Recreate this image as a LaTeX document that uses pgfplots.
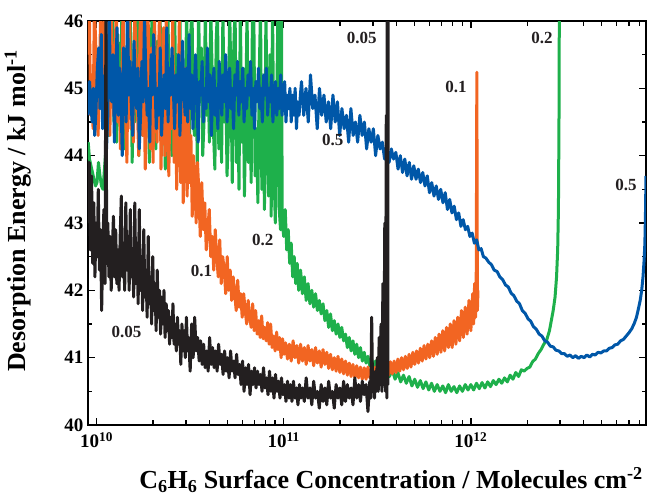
\documentclass[border=0pt]{standalone}
\usepackage{fontspec}
\setmainfont{Liberation Serif}
\usepackage{pgfplots}
\pgfplotsset{compat=1.18}
\definecolor{cblue}{RGB}{0,87,168}
\definecolor{cgreen}{RGB}{30,176,75}
\definecolor{corange}{RGB}{242,101,34}
\definecolor{cblack}{RGB}{35,31,32}
\begin{document}
\begin{tikzpicture}
\useasboundingbox (-88pt,-73pt) rectangle (561pt,425pt);
\begin{axis}[
  at={(0pt,0pt)}, anchor=south west,
  scale only axis, width=558pt, height=404pt,
  xmin=9.954, xmax=12.936, ymin=40, ymax=46,
  xtick={10,11,12},
  xticklabels={10\textsuperscript{10},10\textsuperscript{11},10\textsuperscript{12}},
  minor xtick={10.301,10.477,10.602,10.699,10.778,10.845,10.903,10.954,
    11.301,11.477,11.602,11.699,11.778,11.845,11.903,11.954,
    12.301,12.477,12.602,12.699,12.778,12.845,12.903},
  ytick={40,41,42,43,44,45,46},
  yticklabels={40,41,42,43,44,45,46},
  minor ytick={40.5,41.5,42.5,43.5,44.5,45.5},
  tick align=inside,
  major tick length=7pt, minor tick length=4.5pt,
  axis line style={line width=1.5pt},
  every tick/.style={line width=1.3pt, black},
  xticklabel style={font=\fontsize{19}{19}\selectfont\bfseries, yshift=-4pt},
  yticklabel style={font=\fontsize{19}{19}\selectfont\bfseries, xshift=-1pt},
  xlabel={C\textsubscript{6}H\textsubscript{6} Surface Concentration / Molecules cm\textsuperscript{-2}},
  ylabel={Desorption Energy / kJ mol\textsuperscript{-1}},
  xlabel style={font=\fontsize{26}{26}\selectfont\bfseries, at={(axis description cs:0.543,-0.157)}, anchor=base},
  ylabel style={font=\fontsize{26}{26}\selectfont\bfseries, at={(axis description cs:-0.1254,0.53)}, anchor=center},
  every axis plot/.style={line width=3pt, line join=round, mark=none},
  clip=true,
]
% 0.2 green
\addplot[cgreen] coordinates {
(9.955,44.2)(9.962,43.95)(9.970,43.85)(9.978,43.75)(9.986,43.65)(9.994,43.55)(10.002,43.6)(10.01,43.9)(10.018,43.7)(10.026,43.55)(10.034,43.5)(10.042,43.8)(10.05,44.1)(10.058,44.6)(10.065,44.3)(10.072,45.4)(10.078,45.0)(10.085,46.2)(10.093,44.5)(10.1,44.9)(10.107,44.2)(10.113,45.8)(10.12,45.2)(10.128,44.4)(10.135,46.2)(10.141,45.5)(10.148,44.1)(10.156,44.6)(10.163,45.3)(10.17,44.7)(10.176,46.2)(10.183,45.8)(10.19,43.9)(10.198,45.1)(10.205,44.5)(10.211,44.9)(10.218,46.2)(10.226,44.0)(10.232,45.6)(10.239,45.0)(10.247,44.3)(10.254,46.2)(10.26,46.2)(10.267,44.8)(10.275,45.2)(10.282,43.9)(10.289,44.6)(10.296,46.2)(10.303,44.4)(10.31,45.0)(10.317,44.1)(10.324,45.7)(10.332,44.6)(10.338,46.2)(10.345,45.3)(10.353,44.2)(10.36,45.4)(10.367,43.8)(10.374,44.9)(10.381,46.2)(10.389,44.5)(10.395,45.1)(10.402,44.0)(10.41,45.8)(10.417,46.2)(10.424,44.7)(10.43,45.5)(10.438,44.2)(10.445,46.2)(10.452,44.4)(10.46,45.2)(10.467,43.9)(10.474,44.6)(10.481,46.2)(10.488,45.0)(10.496,44.1)(10.503,45.8)(10.51,46.2)(10.516,44.6)(10.523,44.3)(10.531,45.4)(10.538,43.9)(10.545,46.2)(10.553,44.8)(10.56,45.6)(10.567,44.0)(10.574,44.5)(10.581,46.2)(10.588,44.6)(10.596,45.1)(10.603,44.2)(10.61,46.2)(10.617,45.3)(10.624,44.4)(10.632,43.8)(10.639,45.7)(10.646,46.2)(10.653,44.1)(10.66,45.0)(10.668,43.9)(10.675,46.2)(10.682,44.5)(10.689,45.4)(10.697,43.7)(10.704,44.3)(10.711,46.2)(10.718,45.1)(10.725,43.6)(10.733,45.6)(10.74,46.2)(10.747,43.9)(10.754,44.8)(10.761,43.5)(10.768,46.2)(10.776,44.2)(10.783,45.3)(10.79,43.4)(10.797,44.6)(10.804,46.2)(10.811,43.9)(10.819,45.0)(10.826,43.6)(10.833,46.2)(10.84,46.2)(10.847,43.7)(10.854,44.4)(10.862,43.3)(10.869,45.2)(10.876,46.2)(10.883,43.5)(10.89,44.7)(10.897,43.2)(10.905,46.2)(10.912,44.1)(10.919,43.4)(10.926,45.5)(10.933,43.1)(10.94,46.2)(10.948,43.8)(10.955,43.0)(10.962,44.6)(10.969,46.2)(10.976,43.2)(10.983,42.9)(10.988,46.2)(10.992,43.0)
(11.0,42.8)(11.008,43.2)(11.016,42.6)(11.024,42.9)(11.032,42.4)(11.04,42.7)(11.048,42.2)(11.056,42.5)(11.064,42.1)(11.072,42.4)(11.08,42.0)(11.09,42.3)(11.1,41.95)(11.11,42.2)(11.12,41.85)(11.13,42.1)(11.14,41.8)(11.15,42.0)(11.16,41.75)(11.17,41.95)(11.18,41.7)(11.19,41.85)(11.2,41.65)(11.21,41.8)(11.22,41.55)(11.23,41.7)(11.24,41.45)(11.25,41.65)(11.26,41.4)(11.27,41.55)(11.28,41.35)(11.29,41.5)(11.3,41.3)(11.31,41.45)(11.32,41.25)(11.33,41.35)(11.34,41.15)(11.35,41.3)(11.36,41.1)(11.37,41.25)(11.38,41.05)(11.39,41.2)(11.4,41.0)(11.41,41.15)(11.42,40.95)(11.43,41.08)(11.44,40.92)(11.45,41.02)(11.46,40.88)(11.47,40.98)(11.48,40.82)(11.49,40.95)(11.5,40.8)(11.51,40.9)(11.52,40.76)(11.53,40.88)(11.54,40.74)(11.55,40.85)(11.565,40.72)(11.58,40.82)(11.595,40.68)(11.61,40.78)(11.625,40.64)(11.64,40.74)(11.655,40.62)(11.67,40.72)(11.685,40.58)(11.7,40.68)(11.715,40.56)(11.73,40.66)(11.745,40.54)(11.76,40.64)(11.775,40.52)(11.79,40.62)(11.805,40.5)(11.82,40.6)(11.835,40.5)(11.85,40.58)(11.865,40.48)(11.88,40.6)(11.895,40.5)(11.91,40.57)(11.925,40.48)(11.94,40.58)(11.955,40.5)(11.97,40.6)(11.985,40.52)(12.0,40.6)(12.015,40.52)(12.03,40.62)(12.045,40.54)(12.06,40.63)(12.075,40.55)(12.09,40.64)(12.105,40.57)(12.12,40.66)(12.135,40.6)(12.15,40.68)(12.165,40.62)(12.18,40.7)(12.195,40.64)(12.21,40.74)(12.225,40.68)(12.24,40.78)(12.255,40.72)(12.27,40.82)(12.285,40.8)(12.3,40.84)(12.315,40.86)(12.33,40.94)(12.345,40.98)(12.36,41.06)(12.375,41.12)(12.39,41.2)(12.405,41.26)(12.42,41.4)(12.43,41.55)(12.44,41.7)(12.45,41.9)(12.458,42.2)(12.464,42.6)(12.468,43.2)(12.471,44.5)(12.473,46.3)
};
% 0.1 orange
\addplot[corange] coordinates {
(9.955,45.5)(9.961,46.2)(9.968,44.6)(9.974,45.2)(9.981,44.4)(9.988,46.2)(9.995,45.7)(10.001,44.9)(10.008,44.3)(10.015,45.1)(10.022,46.2)(10.029,44.7)(10.036,45.5)(10.043,46.2)(10.05,44.4)(10.057,44.9)(10.064,45.8)(10.071,44.3)(10.078,46.2)(10.085,45.0)(10.092,44.6)(10.099,45.6)(10.106,46.2)(10.113,44.5)(10.12,45.3)(10.127,44.1)(10.134,44.8)(10.141,46.2)(10.148,45.2)(10.155,44.6)(10.162,43.9)(10.169,45.7)(10.176,46.2)(10.183,44.4)(10.19,45.0)(10.197,44.2)(10.204,46.2)(10.211,45.4)(10.218,44.7)(10.225,44.0)(10.232,45.9)(10.239,46.2)(10.246,44.3)(10.253,45.1)(10.26,43.8)(10.267,44.6)(10.274,46.2)(10.281,45.3)(10.288,44.1)(10.295,45.6)(10.302,43.9)(10.309,46.2)(10.316,44.8)(10.323,44.2)(10.33,45.4)(10.337,46.2)(10.344,43.8)(10.351,44.7)(10.358,45.9)(10.365,44.0)(10.372,46.2)(10.379,44.5)(10.386,43.7)(10.393,45.2)(10.4,44.4)(10.407,46.2)(10.414,43.9)(10.421,45.0)(10.428,43.5)(10.435,44.6)(10.442,46.0)(10.449,43.6)(10.456,44.8)(10.463,43.3)(10.47,45.3)(10.477,44.0)(10.484,43.4)(10.49,44.9)(10.497,43.6)(10.504,44.3)(10.511,43.1)(10.518,44.0)(10.525,43.6)(10.532,43.0)(10.539,43.9)(10.546,43.5)(10.554,42.8)(10.562,43.6)(10.57,42.9)(10.578,43.3)(10.586,42.6)(10.594,42.9)(10.602,43.2)(10.61,42.5)(10.618,42.8)(10.626,42.3)(10.634,42.9)(10.642,42.5)(10.65,42.2)(10.658,42.75)(10.666,42.1)(10.674,42.5)(10.682,42.3)(10.69,41.95)(10.698,42.5)(10.706,42.0)(10.714,42.3)(10.722,41.85)(10.73,42.2)(10.738,41.95)(10.746,41.7)(10.754,42.15)(10.762,41.75)(10.77,41.95)(10.778,41.6)(10.786,41.95)(10.794,41.7)(10.802,41.5)(10.81,41.85)(10.818,41.6)(10.826,41.45)(10.834,41.8)(10.842,41.4)(10.85,41.7)(10.858,41.35)(10.866,41.55)(10.874,41.3)(10.882,41.62)(10.89,41.28)(10.898,41.45)(10.906,41.25)(10.914,41.52)(10.922,41.2)(10.93,41.5)(10.938,41.15)(10.946,41.32)(10.954,41.1)(10.962,41.38)(10.97,41.12)(10.978,41.3)(10.986,41.0)(10.994,41.28)(11.002,41.05)(11.01,41.22)(11.02,40.98)(11.03,41.2)(11.04,40.95)(11.05,41.25)(11.06,41.0)(11.07,41.18)(11.08,40.92)(11.09,41.2)(11.1,40.95)(11.11,41.15)(11.12,40.9)(11.13,41.18)(11.14,40.95)(11.15,41.12)(11.16,40.88)(11.17,41.15)(11.18,40.92)(11.19,41.1)(11.2,40.86)(11.21,41.12)(11.22,40.9)(11.23,41.08)(11.24,40.84)(11.25,41.05)(11.26,40.82)(11.27,41.0)(11.28,40.8)(11.29,41.02)(11.3,40.78)(11.31,40.98)(11.32,40.76)(11.33,40.95)(11.34,40.74)(11.35,40.92)(11.36,40.72)(11.37,40.9)(11.38,40.7)(11.39,40.88)(11.4,40.7)(11.41,40.86)(11.42,40.68)(11.43,40.85)(11.44,40.68)(11.45,40.86)(11.46,40.7)(11.47,40.84)(11.48,40.68)(11.49,40.86)(11.5,40.7)(11.51,40.88)(11.52,40.72)(11.53,40.9)(11.54,40.72)(11.55,40.92)(11.56,40.74)(11.57,40.94)(11.58,40.76)(11.59,40.95)(11.6,40.78)(11.61,40.98)(11.62,40.8)(11.63,41.0)(11.64,40.82)(11.65,41.02)(11.66,40.84)(11.67,41.05)(11.68,40.86)(11.69,41.08)(11.7,40.9)(11.71,41.1)(11.72,40.92)(11.73,41.14)(11.74,40.95)(11.75,41.18)(11.76,40.98)(11.77,41.2)(11.78,41.0)(11.79,41.25)(11.8,41.02)(11.81,41.3)(11.82,41.05)(11.83,41.35)(11.84,41.08)(11.85,41.4)(11.86,41.1)(11.87,41.45)(11.88,41.15)(11.89,41.5)(11.9,41.15)(11.91,41.55)(11.92,41.2)(11.93,41.6)(11.94,41.25)(11.95,41.7)(11.96,41.3)(11.97,41.75)(11.98,41.35)(11.99,41.85)(12.0,41.4)(12.01,41.95)(12.015,41.5)(12.02,42.1)(12.025,41.6)(12.029,42.3)(12.032,45.24)(12.035,41.7)(12.038,42.0)
};
% 0.5 blue
\addplot[cblue] coordinates {
(9.955,44.6)(9.962,45.1)(9.969,44.8)(9.976,44.5)(9.983,45.0)(9.99,44.3)(9.997,44.7)(10.004,45.3)(10.011,45.6)(10.018,44.7)(10.025,45.8)(10.032,44.4)(10.039,44.9)(10.046,45.2)(10.053,44.1)(10.06,44.6)(10.067,46.2)(10.074,45.0)(10.081,44.8)(10.088,45.5)(10.095,44.2)(10.102,45.1)(10.109,45.9)(10.116,44.6)(10.123,45.3)(10.13,44.9)(10.137,44.0)(10.144,45.6)(10.151,45.2)(10.158,44.5)(10.165,46.3)(10.172,44.9)(10.179,45.4)(10.186,44.7)(10.193,44.3)(10.2,45.7)(10.207,45.0)(10.214,44.7)(10.221,45.3)(10.228,44.1)(10.235,44.6)(10.242,45.4)(10.249,44.8)(10.256,46.1)(10.263,45.2)(10.27,44.6)(10.277,45.0)(10.284,44.2)(10.291,45.5)(10.298,44.9)(10.305,45.8)(10.312,45.1)(10.319,44.4)(10.326,45.0)(10.333,44.6)(10.34,45.6)(10.347,44.3)(10.354,44.8)(10.361,45.2)(10.368,44.7)(10.375,45.9)(10.382,44.5)(10.389,45.3)(10.396,44.9)(10.403,45.6)(10.41,45.0)(10.417,44.4)(10.424,45.2)(10.431,44.8)(10.438,45.5)(10.445,44.3)(10.452,44.9)(10.459,45.7)(10.466,45.0)(10.473,44.6)(10.48,45.3)(10.487,44.5)(10.494,45.8)(10.501,44.7)(10.508,45.2)(10.515,44.4)(10.522,45.0)(10.529,45.5)(10.536,44.8)(10.543,44.2)(10.55,45.1)(10.557,44.9)(10.564,45.4)(10.571,44.5)(10.578,45.0)(10.585,44.7)(10.592,45.6)(10.599,44.8)(10.606,45.2)(10.613,44.3)(10.62,44.9)(10.627,45.3)(10.634,44.6)(10.641,45.0)(10.648,44.4)(10.655,45.4)(10.662,45.0)(10.669,44.6)(10.676,45.2)(10.683,44.8)(10.69,45.5)(10.697,44.5)(10.704,44.9)(10.711,45.3)(10.718,44.7)(10.725,45.0)(10.732,44.4)(10.739,45.2)(10.746,44.9)(10.753,45.4)(10.76,44.6)(10.767,45.1)(10.774,44.8)(10.781,45.3)(10.788,44.5)(10.795,45.0)(10.802,44.7)(10.809,45.2)(10.816,44.9)(10.823,45.4)(10.83,44.6)(10.837,45.0)(10.844,44.4)(10.851,45.1)(10.858,44.8)(10.865,45.3)(10.872,44.7)(10.879,45.0)(10.886,44.5)(10.893,45.2)(10.9,44.9)(10.907,45.3)(10.914,44.6)(10.921,45.0)(10.928,44.8)(10.935,45.2)(10.942,44.5)(10.949,44.9)(10.956,45.1)(10.963,44.6)(10.97,45.0)(10.977,44.7)(10.984,45.2)(10.991,44.6)(10.998,44.9)(11.005,45.1)(11.012,44.5)(11.019,44.9)(11.026,44.7)(11.033,45.0)(11.04,44.5)(11.047,44.9)(11.054,44.6)(11.061,45.0)(11.068,44.4)(11.075,44.8)(11.082,44.6)(11.089,44.9)
(11.095,45.1)(11.107,44.6)(11.119,45.0)(11.131,44.5)(11.143,45.2)(11.155,44.7)(11.167,44.9)(11.179,44.4)(11.191,45.0)(11.203,44.6)(11.215,44.9)(11.227,44.5)(11.239,44.8)(11.251,44.4)(11.263,44.9)(11.275,44.5)(11.287,44.8)(11.299,44.3)(11.311,44.7)(11.323,44.4)(11.335,44.6)(11.347,44.2)(11.359,44.7)(11.371,44.3)(11.383,44.5)(11.395,44.2)(11.407,44.6)(11.419,44.3)(11.431,44.5)(11.443,44.1)(11.455,44.4)(11.467,44.2)(11.479,44.4)(11.491,44.0)(11.503,44.3)(11.515,44.1)(11.527,44.2)(11.539,43.95)(11.551,44.15)(11.563,43.9)(11.575,44.1)(11.587,43.95)(11.599,44.05)(11.611,43.8)(11.623,44.0)(11.635,43.75)(11.647,43.95)(11.659,43.7)(11.671,43.9)(11.683,43.65)(11.695,43.85)(11.707,43.65)(11.719,43.8)(11.731,43.6)(11.743,43.75)(11.755,43.55)(11.767,43.7)(11.779,43.45)(11.791,43.6)(11.803,43.4)(11.815,43.55)(11.827,43.35)(11.839,43.5)(11.851,43.3)(11.863,43.45)(11.875,43.2)(11.887,43.35)(11.899,43.15)(11.911,43.25)(11.923,43.05)(11.935,43.15)(11.947,42.95)(11.959,43.05)(11.971,42.9)(11.983,42.95)(11.995,42.8)(12.007,42.85)(12.019,42.7)(12.031,42.75)(12.043,42.6)(12.055,42.62)(12.067,42.5)
(12.08,42.48)(12.095,42.42)(12.11,42.38)(12.125,42.3)(12.14,42.28)(12.155,42.2)(12.17,42.16)(12.185,42.08)(12.2,42.05)(12.215,41.96)(12.23,41.92)(12.245,41.84)(12.26,41.8)(12.275,41.7)(12.29,41.66)(12.305,41.58)(12.32,41.54)(12.335,41.46)(12.35,41.42)(12.365,41.35)(12.38,41.32)(12.395,41.25)(12.41,41.23)(12.425,41.17)(12.44,41.16)(12.455,41.11)(12.47,41.1)(12.485,41.06)(12.5,41.06)(12.515,41.02)(12.53,41.04)(12.545,41.0)(12.56,41.03)(12.575,40.99)(12.59,41.02)(12.605,41.0)(12.62,41.04)(12.635,41.01)(12.65,41.05)(12.665,41.04)(12.68,41.08)(12.695,41.07)(12.71,41.1)(12.725,41.1)(12.74,41.14)(12.755,41.15)(12.77,41.19)(12.785,41.2)(12.8,41.25)(12.815,41.27)(12.83,41.32)(12.845,41.37)(12.86,41.43)(12.875,41.52)(12.885,41.6)(12.895,41.72)(12.905,41.85)(12.913,42.0)(12.92,42.2)(12.926,42.45)(12.93,42.7)(12.933,43.1)(12.936,43.7)
};
% 0.05 black
\addplot[cblack] coordinates {
(9.955,43.0)(9.961,43.9)(9.967,42.6)(9.973,43.7)(9.979,42.4)(9.985,43.3)(9.991,42.2)(9.997,43.0)(10.003,42.5)(10.009,43.5)(10.015,42.3)(10.021,42.9)(10.027,41.7)(10.033,42.7)(10.039,43.2)(10.045,42.1)(10.05,46.3)(10.054,42.4)(10.06,43.0)(10.066,42.2)(10.072,42.8)(10.078,42.0)(10.084,42.6)(10.09,43.1)(10.096,42.2)(10.102,42.9)(10.108,42.1)(10.114,42.6)(10.12,42.0)(10.126,42.8)(10.132,43.4)(10.138,42.2)(10.144,42.7)(10.15,42.0)(10.156,43.3)(10.162,42.3)(10.168,42.8)(10.174,42.0)(10.18,43.2)(10.186,42.2)(10.192,42.6)(10.198,41.9)(10.204,43.3)(10.21,42.1)(10.216,42.7)(10.222,41.8)(10.228,43.2)(10.234,42.0)(10.24,42.5)(10.246,41.7)(10.252,42.9)(10.258,41.9)(10.264,42.3)(10.27,41.6)(10.276,42.8)(10.282,41.8)(10.288,42.2)(10.294,41.5)(10.3,42.5)(10.306,41.7)(10.312,42.1)(10.318,41.4)(10.324,42.3)(10.33,41.6)(10.336,42.0)(10.342,41.35)(10.348,41.9)(10.354,41.5)(10.36,42.0)(10.366,41.3)(10.372,41.8)(10.378,41.4)(10.384,41.7)(10.39,41.2)(10.396,41.6)(10.402,41.3)(10.408,41.8)(10.414,41.2)(10.42,41.5)(10.426,41.1)(10.432,41.6)(10.438,41.2)(10.444,41.4)(10.45,40.9)(10.456,41.5)(10.462,41.1)(10.468,41.4)(10.474,41.0)(10.48,41.6)(10.486,41.1)(10.492,41.3)(10.5,40.8)(10.508,41.5)(10.516,41.0)(10.524,41.6)(10.532,41.1)(10.54,41.3)(10.548,40.95)(10.556,41.25)(10.564,40.9)(10.572,41.2)(10.58,40.85)(10.588,41.1)(10.596,40.8)(10.604,41.3)(10.612,40.9)(10.62,41.15)(10.628,40.85)(10.636,41.1)(10.644,40.8)(10.652,41.2)(10.66,40.9)(10.668,41.05)(10.676,40.75)(10.684,41.1)(10.692,40.8)(10.7,41.0)(10.708,40.7)(10.716,41.1)(10.724,40.8)(10.732,40.95)(10.74,40.7)(10.748,41.05)(10.756,40.75)(10.764,40.9)(10.772,40.6)(10.78,40.95)(10.788,40.5)(10.796,40.85)(10.804,40.6)(10.812,40.9)(10.82,40.45)(10.828,40.8)(10.836,40.6)(10.844,40.85)(10.852,40.55)(10.86,40.8)(10.868,40.6)(10.876,40.75)(10.884,40.5)(10.892,40.85)(10.9,40.55)(10.908,40.7)(10.916,40.45)(10.924,40.8)(10.932,40.5)(10.94,40.7)(10.948,40.4)(10.956,40.75)(10.964,40.5)(10.972,40.65)(10.98,40.4)(10.988,40.7)(10.996,40.45)(11.004,40.6)(11.012,40.35)(11.02,40.65)(11.028,40.4)(11.036,40.6)(11.044,40.35)(11.052,40.65)(11.06,40.4)(11.068,40.55)(11.076,40.3)(11.084,40.6)(11.092,40.4)(11.1,40.55)(11.11,40.35)(11.12,40.7)(11.13,40.4)(11.14,40.55)(11.15,40.3)(11.16,40.65)(11.17,40.4)(11.18,40.5)(11.19,40.25)(11.2,40.6)(11.21,40.35)(11.22,40.55)(11.23,40.3)(11.24,40.65)(11.25,40.4)(11.26,40.5)(11.27,40.25)(11.28,40.6)(11.29,40.4)(11.3,40.55)(11.31,40.3)(11.32,40.65)(11.33,40.35)(11.34,40.6)(11.35,40.4)(11.36,40.55)(11.37,40.3)(11.38,40.7)(11.39,40.4)(11.4,40.6)(11.41,40.35)(11.42,40.65)(11.43,40.45)(11.44,40.6)(11.45,40.2)(11.46,40.65)(11.465,40.4)(11.47,41.6)(11.475,40.5)(11.48,40.7)(11.485,40.4)(11.49,40.8)(11.495,40.5)(11.5,41.0)(11.505,40.5)(11.51,41.3)(11.515,40.6)(11.52,41.5)(11.525,40.5)(11.53,42.1)(11.535,40.6)(11.54,43.0)(11.544,40.5)(11.548,44.6)(11.551,40.4)(11.553,46.3)(11.556,40.6)(11.558,46.3)
};
\begin{scope}[every node/.style={font=\fontsize{17}{17}\selectfont\bfseries, text=cblack, anchor=center}]
\node at (axis cs:11.417,45.75) {0.05};
\node at (axis cs:11.92,45.02) {0.1};
\node at (axis cs:12.38,45.75) {0.2};
\node at (axis cs:12.829,43.56) {0.5};
\node at (axis cs:11.262,44.23) {0.5};
\node at (axis cs:10.888,42.75) {0.2};
\node at (axis cs:10.561,42.29) {0.1};
\node at (axis cs:10.16,41.38) {0.05};
\end{scope}
\end{axis}
\end{tikzpicture}
\end{document}
